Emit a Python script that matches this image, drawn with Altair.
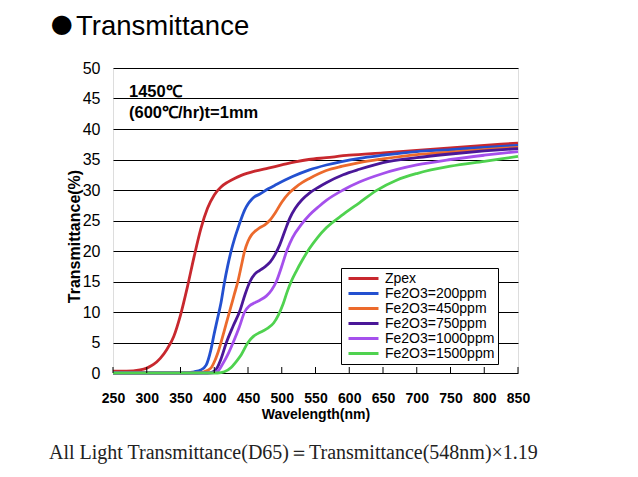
import altair as alt
import pandas as pd

series_names = ["Zpex", "Fe2O3=200ppm", "Fe2O3=450ppm", "Fe2O3=750ppm",
                "Fe2O3=1000ppm", "Fe2O3=1500ppm"]
series_colors = ["#c8282e", "#2350d0", "#ec6a2c", "#4a1798", "#a550ec", "#4fd24f"]

zpex_wl = [250, 270, 290, 300, 310, 320, 330, 340, 350, 360, 370, 380, 390, 400, 410,
           420, 430, 440, 460, 480, 500, 520, 540, 566, 600, 650, 700, 750, 800, 850]
zpex_t = [0.3, 0.3, 0.5, 0.8, 1.4, 2.4, 3.9, 6.0, 9.5, 14.0, 19.0, 23.6, 27.0, 29.2, 30.5,
          31.3, 31.9, 32.4, 33.1, 33.6, 34.1, 34.6, 35.0, 35.3, 35.7, 36.1, 36.5, 36.9, 37.3, 37.7]

fe200_wl = [250, 360, 370, 380, 388, 395, 400, 405, 410, 415, 420, 425, 430, 435, 440,
            445, 450, 455, 460, 467, 480, 492, 516, 541, 566, 615, 650, 700, 750, 800, 850]
fe200_t = [0.0, 0.0, 0.2, 0.5, 1.3, 3.8, 6.5, 9.0, 11.5, 14.8, 17.6, 20.0, 22.0, 23.7, 25.3,
           26.7, 27.7, 28.4, 28.9, 29.3, 30.2, 30.9, 32.2, 33.3, 34.1, 35.2, 35.7, 36.3, 36.6,
           37.0, 37.3]

fe450_wl = [250, 375, 385, 395, 400, 405, 410, 415, 420, 425, 430, 435, 440, 445, 450,
            455, 460, 467, 475, 482, 490, 500, 510, 520, 530, 541, 566, 590, 615, 650, 700,
            750, 800, 850]
fe450_t = [0.0, 0.0, 0.2, 0.8, 1.8, 3.2, 5.0, 7.0, 9.0, 11.0, 13.0, 15.0, 17.5, 20.0, 21.6,
           22.6, 23.2, 23.8, 24.3, 25.0, 26.2, 28.0, 29.4, 30.4, 31.2, 31.9, 33.2, 33.9, 34.5,
           35.1, 35.8, 36.2, 36.6, 37.0]

fe750_wl = [250, 390, 400, 405, 410, 418, 428, 438, 446, 453, 460, 467, 475, 483, 490,
            497, 505, 512, 520, 530, 541, 555, 566, 591, 615, 650, 700, 750, 800, 850]
fe750_t = [0.0, 0.0, 0.3, 1.0, 2.3, 5.0, 7.7, 10.2, 13.0, 15.0, 16.2, 16.8, 17.4, 18.2, 19.4,
           21.0, 23.4, 25.4, 27.0, 28.4, 29.5, 30.5, 31.2, 32.5, 33.4, 34.5, 35.3, 35.9, 36.4,
           36.8]

fe1000_wl = [250, 395, 405, 412, 420, 428, 437, 445, 452, 460, 467, 477, 485, 492, 500,
             508, 516, 528, 541, 555, 566, 591, 615, 650, 700, 750, 800, 850]
fe1000_t = [0.0, 0.0, 0.3, 1.4, 3.0, 5.0, 7.5, 10.0, 11.0, 11.5, 11.9, 12.6, 13.6, 15.0, 17.5,
            20.2, 22.2, 24.2, 25.9, 27.3, 28.3, 30.0, 31.3, 32.7, 34.1, 35.0, 35.7, 36.3]

fe1500_wl = [250, 405, 415, 425, 432, 440, 450, 458, 465, 472, 480, 488, 495, 502, 508,
             514, 522, 531, 541, 553, 566, 591, 615, 640, 670, 700, 750, 800, 850]
fe1500_t = [0.0, 0.0, 0.2, 0.9, 1.8, 3.0, 5.0, 6.0, 6.5, 6.9, 7.4, 8.2, 9.5, 11.3, 13.3,
            15.0, 16.8, 18.6, 20.4, 22.2, 23.8, 26.0, 27.9, 29.9, 31.6, 32.7, 33.9, 34.7, 35.5]

x_ticks = [250, 300, 350, 400, 450, 500, 550, 600, 650, 700, 750, 800, 850]
y_ticks = [0, 5, 10, 15, 20, 25, 30, 35, 40, 45, 50]

all_wl = [zpex_wl, fe200_wl, fe450_wl, fe750_wl, fe1000_wl, fe1500_wl]
all_t = [zpex_t, fe200_t, fe450_t, fe750_t, fe1000_t, fe1500_t]

rows = []
for name, wls, ts in zip(series_names, all_wl, all_t):
    for i, (w, t) in enumerate(zip(wls, ts)):
        rows.append({"series": name, "wl": w, "t": t, "order": i})
df = pd.DataFrame(rows)

FONT = "Liberation Sans"

xscale = alt.Scale(domain=[250, 850], nice=False, zero=False)
yscale = alt.Scale(domain=[0, 50], nice=False)

x_axis = alt.Axis(title="Wavelength(nm)", values=x_ticks, grid=False, ticks=False,
                  domain=False, labelPadding=18, labelFontSize=14,
                  labelFontWeight="bold", labelOverlap=False, labelFlush=False,
                  titleFontSize=14, titleFontWeight="bold",
                  titlePadding=2, labelColor="black", titleColor="black",
                  labelFont=FONT, titleFont=FONT)

lines = alt.Chart(df).mark_line(strokeWidth=2.8, interpolate="monotone").encode(
    x=alt.X("wl:Q", scale=xscale, axis=x_axis),
    y=alt.Y("t:Q", scale=yscale,
            axis=alt.Axis(title="Transmittance(%)", values=y_ticks, grid=True,
                          gridColor="black", gridOpacity=1, gridWidth=1.2, ticks=False,
                          domain=False, labelPadding=13, labelFontSize=16,
                          labelOverlap=False, labelFlush=False,
                          titleFontSize=16, titleFontWeight="bold",
                          titleX=-39, titleY=168, titleAlign="center",
                          titleBaseline="middle", titleAngle=270,
                          labelColor="black", titleColor="black",
                          labelFont=FONT, titleFont=FONT)),
    color=alt.Color("series:N", scale=alt.Scale(domain=series_names, range=series_colors),
                    sort=series_names,
                    legend=alt.Legend(title=None, orient="none", legendX=228, legendY=200,
                                      strokeColor="black", fillColor="white", padding=3,
                                      labelFontSize=14, labelFont=FONT, labelColor="black",
                                      symbolType="M-2.5,0H2.5", symbolSize=144,
                                      symbolStrokeWidth=3, labelOffset=14, rowPadding=0,
                                      symbolOffset=12, labelLimit=300)),
    order="order:Q",
)

ticks = alt.Chart(pd.DataFrame({"wl": x_ticks})).mark_rule(color="black", strokeWidth=1).encode(
    x=alt.X("wl:Q", scale=xscale, axis=x_axis),
    y=alt.value(305),
    y2=alt.value(299),
)

note1 = alt.Chart(pd.DataFrame({"label": ["1450℃"]})).mark_text(
    align="left", baseline="middle", fontSize=16.5, fontWeight="bold", font=FONT, color="black"
).encode(text="label:N", x=alt.value(16), y=alt.value(24))
note2 = alt.Chart(pd.DataFrame({"label": ["(600℃/hr)t=1mm"]})).mark_text(
    align="left", baseline="middle", fontSize=16.5, fontWeight="bold", font=FONT, color="black"
).encode(text="label:N", x=alt.value(16), y=alt.value(45))

bullet = alt.Chart(pd.DataFrame({"label": ["●"]})).mark_text(
    align="left", baseline="alphabetic", fontSize=21.5, font="Noto Sans CJK JP", color="black"
).encode(text="label:N", x=alt.value(-62), y=alt.value(-35.5))

title = alt.Chart(pd.DataFrame({"label": ["Transmittance"]})).mark_text(
    align="left", baseline="alphabetic", fontSize=27.5, font=FONT, color="black"
).encode(text="label:N", x=alt.value(-37), y=alt.value(-33))

footer = alt.Chart(pd.DataFrame({"label": ["All Light Transmittance(D65)＝Transmittance(548nm)×1.19"]})).mark_text(
    align="left", baseline="alphabetic", fontSize=20, font="Liberation Serif", color="#222222"
).encode(text="label:N", x=alt.value(-64), y=alt.value(391))

chart = alt.layer(lines, ticks, note1, note2, bullet, title, footer).properties(
    width=405, height=305,
    autosize=alt.AutoSizeParams(type="none"),
    padding={"left": 105, "top": 60, "right": 110, "bottom": 95},
).configure_view(stroke="black", strokeWidth=1.5).configure(background="white")

chart.save("out.html", embed_options={"renderer": "svg", "actions": False})
